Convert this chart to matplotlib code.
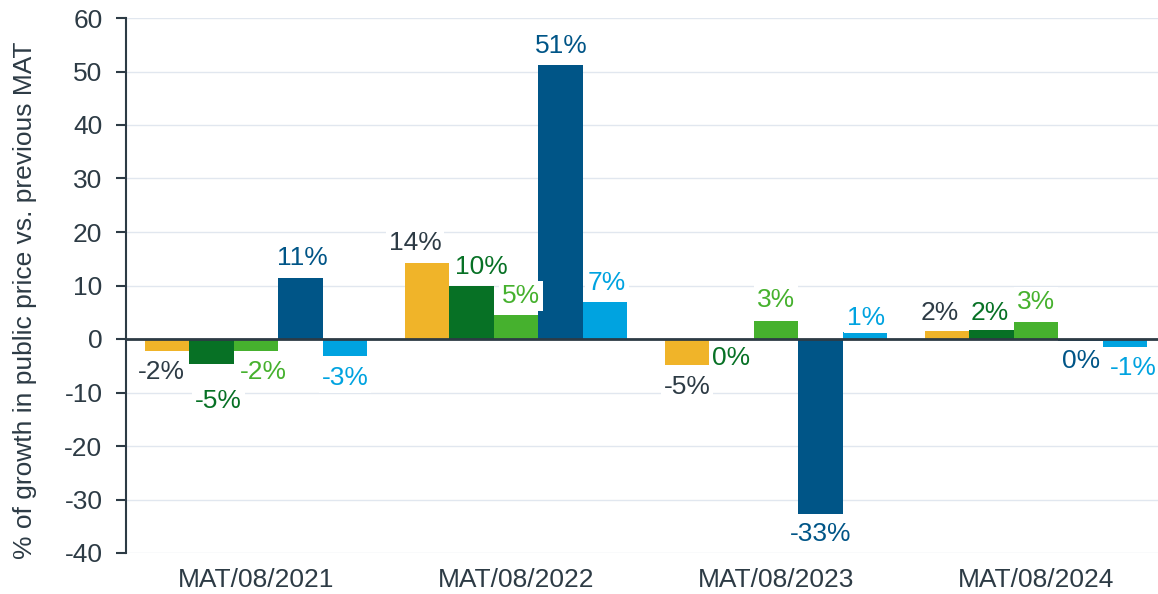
import matplotlib
matplotlib.use("Agg")
import matplotlib.pyplot as plt
import numpy as np

plt.rcParams['font.family'] = ['Liberation Sans', 'DejaVu Sans']
plt.rcParams['axes.unicode_minus'] = False

categories = ["MAT/08/2021", "MAT/08/2022", "MAT/08/2023", "MAT/08/2024"]
series_a = [-2.2, 14.2, -4.9, 1.5]
series_b = [-4.7, 10.0, 0.0, 1.7]
series_c = [-2.2, 4.5, 3.4, 3.2]
series_d = [11.4, 51.2, -32.7, -0.4]
series_e = [-3.2, 6.9, 1.3, -1.5]
labels_a = ["-2%", "14%", "-5%", "2%"]
labels_b = ["-5%", "10%", "0%", "2%"]
labels_c = ["-2%", "5%", "3%", "3%"]
labels_d = ["11%", "51%", "-33%", "0%"]
labels_e = ["-3%", "7%", "1%", "-1%"]

series = [series_a, series_b, series_c, series_d, series_e]
labels = [labels_a, labels_b, labels_c, labels_d, labels_e]
colors = ["#F0B429", "#077125", "#46B12E", "#005587", "#00A3E0"]
text_colors = ["#2D3B45", "#077125", "#46B12E", "#005587", "#00A3E0"]
# label placement per series/group: (dx px, signed dy px from bar end; + = up)
placement = [
    [(-6, -21), (-12, 20), (0, -22), (-7, 18)],
    [(7, -37), (10, 19), (0, -19), (-2, 17)],
    [(7, -21), (5, 19), (0, 21), (0, 20)],
    [(2, 20), (1, 19), (0, -20), (1, -20)],
    [(0, -22), (2, 19), (1, 14), (8, -21)],
]

W, H = 1158, 594
fig = plt.figure(figsize=(W / 100, H / 100), dpi=100)
ax = fig.add_axes([126 / W, 1 - 553 / H, 1 - 126 / W, (553 - 18) / H])

x = np.arange(len(categories))
bw = 0.171
for i, (vals, col) in enumerate(zip(series, colors)):
    pos = x + (i - 2) * bw
    ax.bar(pos, vals, width=bw, color=col, zorder=2)
    for j, (p, v, lab) in enumerate(zip(pos, vals, labels[i])):
        dx, dy = placement[i][j]
        ax.annotate(lab, (p, v), xytext=(dx * 0.72, dy * 0.72), textcoords='offset points',
                    ha='center', va='center', fontsize=19, color=text_colors[i], zorder=5,
                    bbox=dict(boxstyle='square,pad=0.1', fc='white', ec='none'))

ax.set_ylim(-40, 60)
ax.set_yticks(np.arange(-40, 61, 10))
ax.set_xlim(-0.5, 3.5 - 8 / 260)
ax.set_xticks(x)
ax.set_xticklabels(categories)
ax.grid(axis='y', color='#E1E7EF', linewidth=1, zorder=0)
ax.axhline(0, color='#2D3B45', linewidth=2, zorder=3)
for s in ['top', 'right', 'bottom']:
    ax.spines[s].set_visible(False)
ax.spines['left'].set_color('#2D3B45')
ax.spines['left'].set_linewidth(1.5)
ax.tick_params(axis='y', colors='#2D3B45', labelsize=19, length=7, width=1.5, direction='out', pad=10)
ax.tick_params(axis='x', length=0, labelsize=19, colors='#2D3B45', pad=11)
ax.set_ylabel("% of growth in public price vs. previous MAT", fontsize=19, color='#2D3B45')
ax.yaxis.set_label_coords(-0.086, 0.473)

fig.savefig("out.png", dpi=100)
